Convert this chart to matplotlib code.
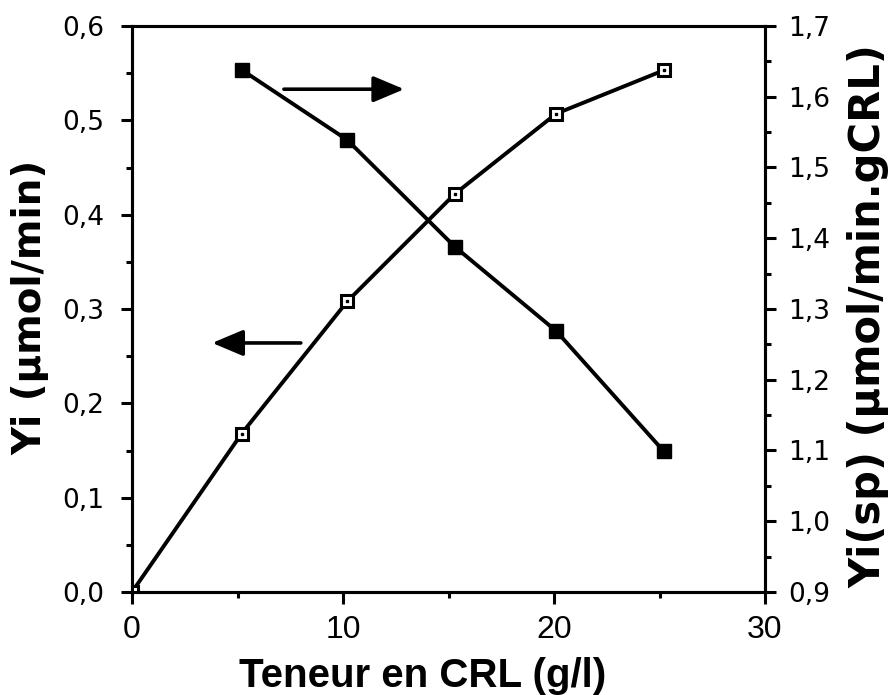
import matplotlib
matplotlib.use("Agg")
import matplotlib.pyplot as plt
from matplotlib.ticker import MultipleLocator, FuncFormatter

plt.rcParams['font.family'] = ['Liberation Sans', 'DejaVu Sans']

# CRL content (g/l) and measured rates
crl_total = [0.0, 5.2, 10.2, 15.3, 20.1, 25.2]
yi_total = [0.0, 0.168, 0.308, 0.422, 0.507, 0.553]

crl_spec = [5.2, 10.2, 15.3, 20.1, 25.2]
yi_spec = [1.638, 1.539, 1.388, 1.269, 1.099]

x_ticks = [0, 10, 20, 30]
left_ticks = [0.0, 0.1, 0.2, 0.3, 0.4, 0.5, 0.6]
right_ticks = [0.9, 1.0, 1.1, 1.2, 1.3, 1.4, 1.5, 1.6, 1.7]

x_title = "Teneur en CRL (g/l)"
left_title = "Yi (µmol/min)"
right_title = "Yi(sp) (µmol/min.gCRL)"

comma = FuncFormatter(lambda v, p: f"{v:.1f}".replace(".", ","))

W, H = 892, 695
fig = plt.figure(figsize=(W / 100, H / 100), dpi=100)
left, right, top, bottom = 132, 765, 26, 592
ax = fig.add_axes([left / W, 1 - bottom / H, (right - left) / W, (bottom - top) / H])
ax2 = ax.twinx()

lw = 2.8
ax.plot(crl_total, yi_total, color='black', lw=lw, marker='s', ms=8.5,
        mfc='white', mec='black', mew=2.2, zorder=3)
ax.plot(crl_total, yi_total, ls='none', marker='s', ms=1.6, color='black', zorder=4)
ax2.plot(crl_spec, yi_spec, color='black', lw=lw, marker='s', ms=9.5,
         mfc='black', mec='black', zorder=3)

ax.set_xlim(0, 30)
ax.set_ylim(0, 0.6)
ax2.set_ylim(0.9, 1.7)

ax.set_xticks(x_ticks)
ax.xaxis.set_minor_locator(MultipleLocator(5))
ax.set_yticks(left_ticks)
ax.yaxis.set_minor_locator(MultipleLocator(0.05))
ax.yaxis.set_major_formatter(comma)
ax2.set_yticks(right_ticks)
ax2.yaxis.set_minor_locator(MultipleLocator(0.05))
ax2.yaxis.set_major_formatter(comma)

for a in (ax, ax2):
    for s in a.spines.values():
        s.set_linewidth(2.2)
    a.tick_params(which='major', length=8, width=2.2)
    a.tick_params(which='minor', length=4.5, width=2.2)

ax.tick_params(axis='y', which='both', left=True, right=False)
ax.tick_params(axis='y', which='major', pad=12)
ax2.tick_params(axis='y', which='both', right=True, left=False)
ax2.tick_params(axis='y', which='major', pad=9)
ax.tick_params(axis='x', which='both', top=False)
ax.tick_params(axis='x', which='major', length=8.5, pad=8)

for lab in ax.get_yticklabels() + ax2.get_yticklabels():
    lab.set_fontfamily('DejaVu Sans')
    lab.set_fontsize(19)
for lab in ax.get_xticklabels():
    lab.set_fontfamily(['Liberation Sans Narrow', 'Liberation Sans'])
    lab.set_fontsize(23)

fig.text(423 / W, 1 - 687 / H, x_title, ha='center', va='baseline',
         fontsize=29, fontweight='bold', family='Liberation Sans')
fig.text(30 / W, 1 - 307 / H, left_title, ha='center', va='center', rotation=90,
         fontsize=28, fontweight='bold', family='DejaVu Sans')
fig.text(868 / W, 1 - 316 / H, right_title, ha='center', va='center', rotation=90,
         fontsize=30, fontweight='bold', family='DejaVu Sans')

arrow = dict(arrowstyle='-|>,head_length=1.9,head_width=0.8', color='black', lw=2.6,
             shrinkA=0, shrinkB=0)
ax.annotate('', xy=(12.9, 0.533), xytext=(7.2, 0.533), arrowprops=arrow)
ax.annotate('', xy=(3.8, 0.264), xytext=(8.0, 0.264), arrowprops=arrow)

fig.savefig("out.png", dpi=100)
